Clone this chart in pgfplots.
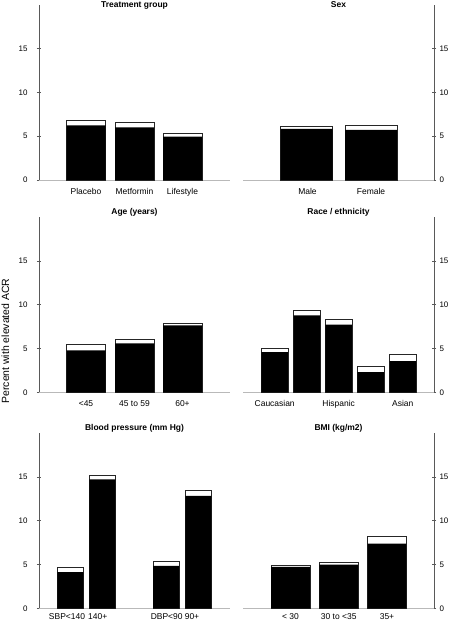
\documentclass[border=0pt]{standalone}
\usepackage{fontspec}
\setmainfont{Liberation Sans}
\usepackage{pgfplots}
\pgfplotsset{compat=1.18}

\pgfplotsset{
  panel/.style={
    scale only axis, width=191bp, height=175bp,
    xmin=0, xmax=191, ymin=0, ymax=20,
    axis x line=bottom,
    ytick={0,5,10,15},
    tick align=outside,
    major tick length=4bp,
    ytick style={black!65, line width=0.6bp},
    xtick style={draw=none},
    /pgf/number format/assume math mode=true,
    yticklabel style={font=\fontsize{8}{9}\selectfont},
    xticklabel style={font=\fontsize{8.5}{10}\selectfont, anchor=north, yshift=-1bp},
    every axis title/.style={font=\bfseries\fontsize{8.5}{10}\selectfont, at={(0.5,1)}, anchor=center, yshift=4.5bp},
    clip=false,
  },
  nolinearrows/.style={
    axis line style={-},
    every outer x axis line/.append style={-, gray!55, line width=0.8bp},
    every outer y axis line/.append style={-, black!65, line width=0.6bp},
    every inner x axis line/.append style={-, gray!55, line width=0.8bp},
    every inner y axis line/.append style={-, black!65, line width=0.6bp},
    x axis line style={-, gray!55, line width=0.8bp},
    y axis line style={-, black!65, line width=0.6bp},
  },
  leftpanel/.style={panel, axis y line=left, nolinearrows,
    yticklabel style={xshift=-6bp}},
  rightpanel/.style={panel, axis y line=right, nolinearrows},
  outerbar/.style={ybar, bar shift=0pt, fill=white, draw=black!85, line width=0.7bp},
  innerbar/.style={ybar, bar shift=0pt, fill=black, draw=none},
  toprow/.style={every axis title/.append style={yshift=-4.5bp}},
}

\begin{document}
\begin{tikzpicture}
\useasboundingbox (0bp,0bp) rectangle (456bp,624bp);

% Treatment group
\begin{axis}[leftpanel, toprow, at={(39bp,444bp)}, anchor=south west, bar width=39,
  title={Treatment group},
  xtick={47,95.5,143.5}, xticklabels={Placebo,Metformin,Lifestyle}]
\addplot[outerbar] coordinates {(47,6.78) (95.5,6.55) (143.5,5.30)};
\addplot[innerbar] coordinates {(47,6.25) (95.5,6.02) (143.5,4.96)};
\end{axis}

% Sex
\begin{axis}[rightpanel, toprow, at={(243bp,444bp)}, anchor=south west, bar width=52,
  title={Sex},
  xtick={64.5,128}, xticklabels={Male,Female}]
\addplot[outerbar] coordinates {(63.5,6.10) (128,6.29)};
\addplot[innerbar] coordinates {(63.5,5.83) (128,5.72)};
\end{axis}

% Age
\begin{axis}[leftpanel, at={(39bp,231.7bp)}, anchor=south west, bar width=39,
  title={Age (years)},
  xtick={47,95.5,143.5}, xticklabels={<45,45 to 59,60+}]
\addplot[outerbar] coordinates {(47,5.51) (95.5,6.04) (143.5,7.88)};
\addplot[innerbar] coordinates {(47,4.78) (95.5,5.58) (143.5,7.65)};
\end{axis}

% Race / ethnicity
\begin{axis}[rightpanel, at={(243bp,231.7bp)}, anchor=south west, bar width=26.5,
  title={Race / ethnicity},
  xtick={31.7,95.7,159.8}, xticklabels={Caucasian,Hispanic,Asian}]
\addplot[outerbar] coordinates {(31.7,4.97) (63.8,9.37) (95.7,8.38) (127.7,2.98) (159.8,4.36)};
\addplot[innerbar] coordinates {(31.7,4.59) (63.8,8.80) (95.7,7.73) (127.7,2.30) (159.8,3.56)};
\end{axis}

% Blood pressure
\begin{axis}[leftpanel, at={(39bp,15.7bp)}, anchor=south west, bar width=26,
  title={Blood pressure (mm Hg)},
  xticklabel style={yshift=3bp},
  xtick={28,58.7,127.7,153}, xticklabels={SBP<140,140+,DBP<90,90+}]
\addplot[outerbar] coordinates {(31.3,4.67) (63.3,15.2) (127,5.31) (159.3,13.45)};
\addplot[innerbar] coordinates {(31.3,4.14) (63.3,14.74) (127,4.86) (159.3,12.84)};
\end{axis}

% BMI
\begin{axis}[rightpanel, at={(243bp,15.7bp)}, anchor=south west, bar width=38.7,
  title={BMI (kg/m2)},
  xticklabel style={yshift=3bp},
  xtick={47.5,95.75,144}, xticklabels={< 30,30 to <35,35+}]
\addplot[outerbar] coordinates {(47.5,4.91) (95.75,5.21) (144,8.26)};
\addplot[innerbar] coordinates {(47.5,4.72) (95.75,4.98) (144,7.38)};
\end{axis}

\node[rotate=90, font=\fontsize{10.5}{12}\selectfont] at (5.5bp,283bp) {Percent with elevated ACR};
\end{tikzpicture}
\end{document}
